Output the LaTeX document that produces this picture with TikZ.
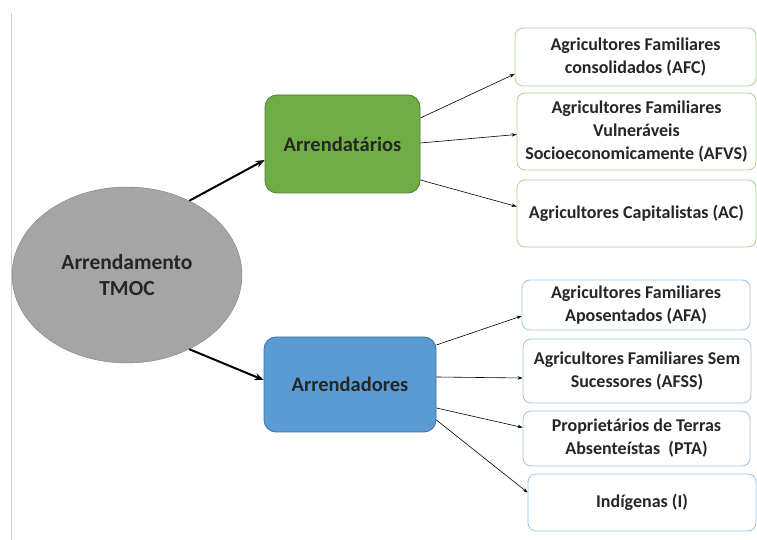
\documentclass[tikz,border=0pt]{standalone}
\usepackage{fontspec}
\setmainfont{Carlito}
\usetikzlibrary{arrows.meta,shapes.geometric}
\definecolor{tmocgray}{HTML}{A5A5A5}
\definecolor{tmocgrayline}{HTML}{7F7F7F}
\definecolor{tarfill}{HTML}{70AD47}
\definecolor{tarline}{HTML}{507E32}
\definecolor{dorfill}{HTML}{5B9BD5}
\definecolor{dorline}{HTML}{41719C}
\definecolor{tarleaf}{HTML}{A9D18E}
\definecolor{dorleaf}{HTML}{9DC3E6}

\begin{document}
\begin{tikzpicture}[x=1pt,y=1pt,
  rootnode/.style={ellipse,draw=tmocgrayline,fill=tmocgray,minimum width=230pt,minimum height=176pt,
    align=center,font=\fontsize{21.5}{26}\selectfont\bfseries,text=black!85},
  groupbox/.style={rectangle,rounded corners=12pt,line width=0.8pt,align=center,
    font=\fontsize{20.5}{24}\selectfont\bfseries,text=black!85},
  leafbox/.style={rectangle,rounded corners=8pt,fill=white,line width=0.8pt,align=center,
    font=\fontsize{18}{23}\selectfont\bfseries,text=black!85},
  bigarrow/.style={-{Stealth[length=9pt,width=7pt]},line width=2pt},
  smallarrow/.style={-{Stealth[length=5pt,width=3.5pt]},line width=0.6pt}]
\useasboundingbox (0,0) rectangle (757,540);
\draw[black!18,line width=1pt] (11,0) -- (11,527);

\node[rootnode] (tmoc) at (127,265) {Arrendamento\\TMOC};

\node[groupbox,draw=tarline,fill=tarfill,minimum width=155pt,minimum height=98pt] (tar) at (342.5,396) {Arrendatários};
\node[groupbox,draw=dorline,fill=dorfill,minimum width=172pt,minimum height=95pt] (dor) at (350,155.5) {Arrendadores};

\node[leafbox,draw=tarleaf,minimum width=241pt,minimum height=58pt] (afc) at (635.5,483) {Agricultores Familiares\\consolidados (AFC)};
\node[leafbox,draw=tarleaf,minimum width=239pt,minimum height=77pt] (afvs) at (636.5,408.5) {Agricultores Familiares\\Vulneráveis\\Socioeconomicamente (AFVS)};
\node[leafbox,draw=tarleaf,minimum width=239pt,minimum height=67pt] (ac) at (636.5,326.5) {Agricultores Capitalistas (AC)};

\node[leafbox,draw=dorleaf,minimum width=228pt,minimum height=50pt] (afa) at (636,235) {Agricultores Familiares\\Aposentados (AFA)};
\node[leafbox,draw=dorleaf,minimum width=228pt,minimum height=64pt] (afss) at (637,169) {Agricultores Familiares Sem\\Sucessores (AFSS)};
\node[leafbox,draw=dorleaf,minimum width=227pt,minimum height=55pt] (pta) at (636.5,101.5) {Proprietários de Terras\\Absenteístas~~(PTA)};
\node[leafbox,draw=dorleaf,minimum width=228pt,minimum height=57pt] (ind) at (642,37.5) {Indígenas (I)};

\draw[bigarrow] (tmoc.50) -- ([yshift=-16pt]tar.west);
\draw[bigarrow] (tmoc.-50) -- ([yshift=4.5pt]dor.west);

\draw[smallarrow] ([yshift=26pt]tar.east) -- ([yshift=-17pt]afc.west);
\draw[smallarrow] ([yshift=1pt]tar.east) -- ([yshift=-3pt]afvs.west);
\draw[smallarrow] ([yshift=-36pt]tar.east) -- ([yshift=7pt]ac.west);

\draw[smallarrow] ([yshift=39.5pt]dor.east) -- ([yshift=-11pt]afa.west);
\draw[smallarrow] ([yshift=7.5pt]dor.east) -- ([yshift=-7pt]afss.west);
\draw[smallarrow] ([yshift=-23.5pt]dor.east) -- ([yshift=11pt]pta.west);
\draw[smallarrow] ([yshift=-35.5pt]dor.east) -- ([yshift=10pt]ind.west);
\end{tikzpicture}
\end{document}
